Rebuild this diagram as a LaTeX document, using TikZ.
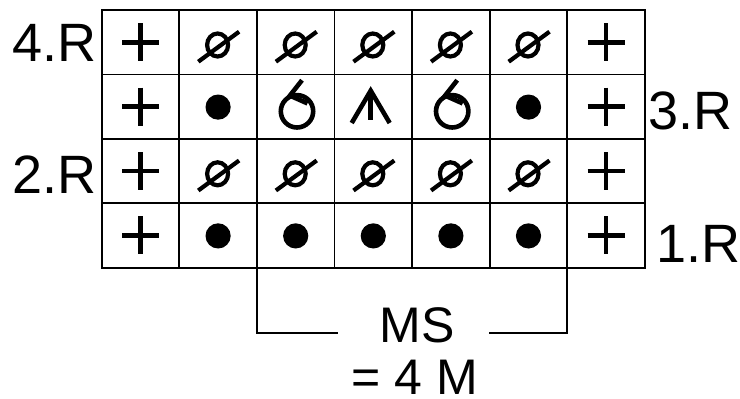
\documentclass[tikz,border=0pt]{standalone}
\usepackage{fontspec}
\setmainfont{Liberation Sans}
\usepackage{tikz}
\tikzset{
    gridline/.style={line width=1.8pt},
    cell/.style={
        draw, line width=1.8pt,
        minimum width=77.6pt, minimum height=64.4pt,
        inner sep=0pt, outer sep=0pt
    },
    stitch/.style={line width=4.6pt},
    rowlabel/.style={font=\fontsize{54}{60}\selectfont, inner sep=0pt},
    msnote/.style={font=\fontsize{50}{56}\selectfont, inner sep=0pt},
    pics/rand/.style={code={
        \draw[stitch] (-18.5,0) -- (18.5,0) (0,-19) -- (0,19);
    }},
    pics/links/.style={code={
        \draw[stitch, line width=4.2pt] (-0.5,2.8) ellipse [x radius=10.5, y radius=11.5];
        \draw[stitch, line width=4.2pt] (-19.8,19.5) -- (21,-10.5);
    }},
    pics/rechts/.style={code={
        \fill (0,0.5) circle [radius=12.6];
    }},
    pics/umschlag/.style={code={
        \draw[stitch] (1.3,4.7) circle [radius=16.2];
        \draw[stitch] (6.3,-26.4) -- (-5.8,-11) -- (11.8,-3.2);
    }},
    pics/abheben/.style={code={
        \draw[stitch] (-21.6,16.4) -- (-2.6,-15.9) -- (16.4,16.4);
        \draw[stitch] (-2.6,-15.9) -- (-2.6,13.1);
    }}
}

\begin{document}
\begin{tikzpicture}[x=1pt, y=-1pt]
\useasboundingbox (0,0) rectangle (740,399);

% chart cells, top row first
\foreach \r/\row in {
    1/{rand,links,links,links,links,links,rand},
    2/{rand,rechts,umschlag,abheben,umschlag,rechts,rand},
    3/{rand,links,links,links,links,links,rand},
    4/{rand,rechts,rechts,rechts,rechts,rechts,rand}}
{
    \foreach \s [count=\c] in \row {
        \node[cell] (c-\r-\c) at ({101.7+(\c-0.5)*77.6}, {10+(\r-0.5)*64.4}) {};
        \pic at (c-\r-\c) {\s};
    }
}

% row numbers
\node[rowlabel, anchor=east] (r4) at (97,43) {4.R};
\node[rowlabel, anchor=west] (r3) at (648,111) {3.R};
\node[rowlabel, anchor=east] (r2) at (97,175) {2.R};
\node[rowlabel, anchor=west] (r1) at (656,244) {1.R};

% repeat
\node[msnote] (ms) at (417,325) {MS};
\node[msnote] (msm) at (415,377) {= 4 M};
\coordinate (bl) at (338,333);
\coordinate (br) at (489,333);
\draw[gridline] (c-4-3.south west) |- (bl);
\draw[gridline] (br) -| (c-4-6.south east);
\end{tikzpicture}
\end{document}
